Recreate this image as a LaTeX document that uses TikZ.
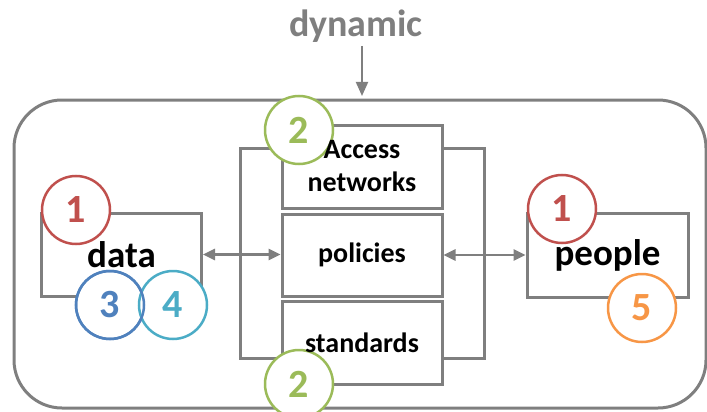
\documentclass[tikz,border=0pt]{standalone}
\usepackage{fontspec}
\setmainfont{Carlito}
\usetikzlibrary{arrows.meta}
\definecolor{lgray}{RGB}{127,127,127}
\definecolor{cred}{RGB}{192,80,77}
\definecolor{cgreen}{RGB}{155,187,89}
\definecolor{cblue}{RGB}{79,129,189}
\definecolor{cteal}{RGB}{75,172,198}
\definecolor{corange}{RGB}{247,150,70}

\begin{document}
\begin{tikzpicture}[x=1pt,y=-1pt,
		line/.style={draw=lgray,line width=3pt},
		box/.style={line,minimum width=160pt,minimum height=83pt,inner sep=0pt},
		lbl/.style={font=\bfseries\fontsize{28}{33}\selectfont,align=center},
		big/.style={font=\bfseries\fontsize{37}{40}\selectfont},
		num/.style={circle,draw=#1,line width=2.5pt,fill=white,minimum size=68pt,
			inner sep=0pt,text=#1,font=\bfseries\fontsize{40}{40}\selectfont},
		link/.style={lgray,line width=2.5pt,
			{Triangle[length=12pt,width=11pt]}-{Triangle[length=12pt,width=11pt]}}]
	\useasboundingbox (0,0) rectangle (707,412);
	
	\node[text=lgray,font=\bfseries\fontsize{38}{40}\selectfont] (dyn) at (356,26) {dynamic};
	\coordinate(dynTip) at (362,96);
	\draw[lgray,line width=2pt,-{Triangle[length=14pt,width=12pt]}] (dyn.south -| dynTip)--(dynTip);
	
	\draw[line,rounded corners=48pt] (14,100) rectangle (706,408);
	
	\node[box] (acc) at (362,166.5) {};
	\node[box,minimum height=82pt] (pol) at (362,255) {};
	\node[box] (std) at (362,342.5) {};
	\node[box,big] (data) at (121.5,254.5) {data};
	\node[box,big,minimum width=161pt,minimum height=84pt] (ppl) at (607.5,255) {people};
	
	\coordinate(brTL) at (240,148);
	\coordinate(brBL) at (240,358);
	\coordinate(brTR) at (484,148);
	\coordinate(brBR) at (484,358);
	\draw[line] (brTL -| acc.west)--(brTL)--(brBL)--(brBL -| std.west);
	\draw[line] (brTR -| acc.east)--(brTR)--(brBR)--(brBR -| std.east);
	
	\draw[link] (data.east)--(data.east -| pol.west);
	\draw[link] (pol.east)--(pol.east -| ppl.west);
	
	\node[num=cgreen] (n2top) at (299,130) {2};
	\node[num=cgreen] (n2bot) at (299,384) {2};
	\node[num=cred] (n1data) at (76,210) {1};
	\node[num=cblue] (n3) at (110,305) {3};
	\node[num=cteal] (n4) at (173,305) {4};
	\draw[cblue,line width=2.5pt] (n3) circle (34pt);
	\node[num=cred] (n1ppl) at (562,209) {1};
	\node[num=corange] (n5) at (642,308) {5};
	
	\node[lbl] (accL) at (acc) {Access\\networks};
	\node[lbl] (polL) at (pol) {policies};
	\node[lbl] (stdL) at (std) {standards};
\end{tikzpicture}
\end{document}
